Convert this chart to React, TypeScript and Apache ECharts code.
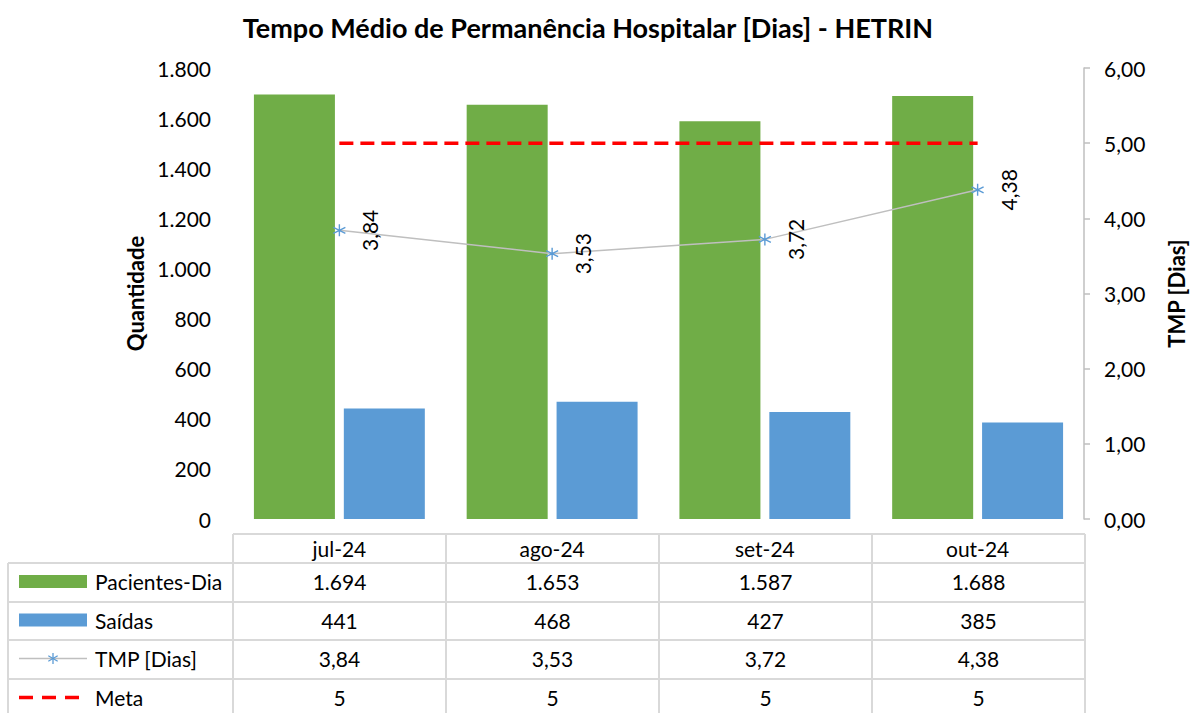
import React, { useEffect, useRef } from "react";
import * as echarts from "echarts";

const categories = ["jul-24", "ago-24", "set-24", "out-24"];
const pacientesDia = [1694, 1653, 1587, 1688];
const saidas = [441, 468, 427, 385];
const tmpDias = [3.84, 3.53, 3.72, 4.38];
const meta = [5, 5, 5, 5];
const seriesNames = ["Pacientes-Dia", "Saídas", "TMP [Dias]", "Meta"];

const FONT = "Lato, 'Open Sans', sans-serif";
const FS = 21;
const GREEN = "#70ad47";
const BLUE = "#5b9bd5";
const GRAY = "#bfbfbf";
const RED = "#ff0000";
const GRID_COLOR = "#d9d9d9";

const fmtInt = (v: number) => {
  const s = Math.round(v).toString();
  return s.replace(/\B(?=(\d{3})+(?!\d))/g, ".");
};
const fmtDec = (v: number, d = 2) => v.toFixed(d).replace(".", ",");

const STAR = "path://M5,0L5,10M0.7,2.5L9.3,7.5M0.7,7.5L9.3,2.5";

export default function App() {
  const ref = useRef<HTMLDivElement>(null);
  useEffect(() => {
    if (!ref.current) return;
    const chart = echarts.init(ref.current, undefined, { renderer: "svg" });
    const W = 1195;
    const H = 713;
    const gl = 233;
    const gr = 1085;
    const gt = 68;
    const gb = 519;
    const colW = (gr - gl) / categories.length;
    const rowsY = [534, 563, 602, 640, 679, 718];
    const lineStyle = { stroke: GRID_COLOR, lineWidth: 2 };
    const graphics: any[] = [];
    // title
    graphics.push({
      type: "text",
      x: 588,
      y: 27,
      style: {
        text: "Tempo Médio de Permanência Hospitalar [Dias] - HETRIN",
        font: `bold 27px ${FONT}`,
        fill: "#000",
        align: "center",
        verticalAlign: "middle",
      },
    });
    // table horizontal lines
    graphics.push({ type: "line", shape: { x1: gl, y1: rowsY[0], x2: gr, y2: rowsY[0] }, style: lineStyle });
    for (let i = 1; i < rowsY.length; i++) {
      graphics.push({ type: "line", shape: { x1: 8, y1: rowsY[i], x2: gr, y2: rowsY[i] }, style: lineStyle });
    }
    for (let i = 0; i <= categories.length; i++) {
      const x = gl + i * colW;
      graphics.push({ type: "line", shape: { x1: x, y1: rowsY[0], x2: x, y2: H }, style: lineStyle });
    }
    graphics.push({ type: "line", shape: { x1: 8, y1: rowsY[1], x2: 8, y2: H }, style: lineStyle });

    const rowsData = [
      pacientesDia.map(fmtInt),
      saidas.map(fmtInt),
      tmpDias.map((v) => fmtDec(v)),
      meta.map((v) => String(v)),
    ];
    rowsData.forEach((row, r) => {
      const cy = (rowsY[r + 1] + rowsY[r + 2]) / 2 - 1;
      row.forEach((t, c) => {
        graphics.push({
          type: "text",
          x: gl + (c + 0.5) * colW,
          y: cy,
          style: { text: t, font: `${FS}px ${FONT}`, fill: "#000", align: "center", verticalAlign: "middle" },
        });
      });
      graphics.push({
        type: "text",
        x: 95,
        y: cy,
        style: { text: seriesNames[r], font: `${FS}px ${FONT}`, fill: "#000", align: "left", verticalAlign: "middle" },
      });
    });
    // legend keys
    const ky = (r: number) => (rowsY[r + 1] + rowsY[r + 2]) / 2 - 1;
    graphics.push({ type: "rect", shape: { x: 19, y: ky(0) - 6.5, width: 68, height: 13 }, style: { fill: GREEN } });
    graphics.push({ type: "rect", shape: { x: 19, y: ky(1) - 6.5, width: 68, height: 13 }, style: { fill: BLUE } });
    graphics.push({ type: "line", shape: { x1: 19, y1: ky(2), x2: 87, y2: ky(2) }, style: { stroke: GRAY, lineWidth: 1.5 } });
    const sx = 53;
    const sy = ky(2);
    graphics.push({ type: "line", shape: { x1: sx, y1: sy - 5.5, x2: sx, y2: sy + 5.5 }, style: { stroke: BLUE, lineWidth: 1.3 } });
    graphics.push({ type: "line", shape: { x1: sx - 4.7, y1: sy - 2.7, x2: sx + 4.7, y2: sy + 2.7 }, style: { stroke: BLUE, lineWidth: 1.3 } });
    graphics.push({ type: "line", shape: { x1: sx - 4.7, y1: sy + 2.7, x2: sx + 4.7, y2: sy - 2.7 }, style: { stroke: BLUE, lineWidth: 1.3 } });
    graphics.push({
      type: "line",
      shape: { x1: 19, y1: ky(3), x2: 88, y2: ky(3) },
      style: { stroke: RED, lineWidth: 3.5, lineDash: [14, 9] },
    });

    chart.setOption({
      animation: false,
      textStyle: { fontFamily: FONT },
      grid: { left: gl, right: W - gr, top: gt, bottom: H - gb, containLabel: false },
      xAxis: {
        type: "category",
        data: categories,
        axisLine: { show: false },
        axisTick: { show: false },
        axisLabel: { fontSize: FS, color: "#000", margin: 19, fontFamily: FONT },
      },
      yAxis: [
        {
          type: "value",
          min: 0,
          max: 1800,
          interval: 200,
          name: "Quantidade",
          nameLocation: "middle",
          nameGap: 82,
          nameTextStyle: { fontSize: 22, fontWeight: "bold", color: "#000", fontFamily: FONT },
          axisLine: { show: false },
          axisTick: { show: false },
          splitLine: { show: false },
          axisLabel: { fontSize: FS, color: "#000", margin: 22, formatter: (v: number) => fmtInt(v), fontFamily: FONT },
        },
        {
          type: "value",
          min: 0,
          max: 6,
          interval: 1,
          position: "right",
          name: "TMP [Dias]",
          nameLocation: "middle",
          nameGap: 81,
          nameRotate: 90,
          nameTextStyle: { fontSize: 22, fontWeight: "bold", color: "#000", fontFamily: FONT },
          axisLine: { show: true, lineStyle: { color: GRAY, width: 1.5 } },
          axisTick: { show: true, length: 6, lineStyle: { color: GRAY, width: 1.5 } },
          splitLine: { show: false },
          axisLabel: { fontSize: FS, color: "#000", margin: 20, formatter: (v: number) => fmtDec(v), fontFamily: FONT },
        },
      ],
      series: [
        {
          name: seriesNames[0],
          type: "bar",
          data: pacientesDia,
          barWidth: 81,
          barGap: "11%",
          itemStyle: { color: GREEN },
        },
        {
          name: seriesNames[1],
          type: "bar",
          data: saidas,
          barWidth: 81,
          barGap: "11%",
          itemStyle: { color: BLUE },
        },
        {
          name: seriesNames[2],
          type: "line",
          yAxisIndex: 1,
          data: tmpDias,
          symbol: STAR,
          symbolSize: 12,
          lineStyle: { color: GRAY, width: 1.5 },
          itemStyle: { color: "none", borderColor: BLUE, borderWidth: 1.4 },
          label: {
            show: true,
            position: "right",
            distance: 22,
            rotate: 90,
            align: "center",
            verticalAlign: "middle",
            fontSize: FS,
            color: "#000",
            fontFamily: FONT,
            formatter: (p: any) => fmtDec(p.value),
          },
          z: 5,
        },
        {
          name: seriesNames[3],
          type: "line",
          yAxisIndex: 1,
          data: meta,
          symbol: "none",
          lineStyle: { color: RED, width: 3.5, type: [14, 7] },
          z: 4,
        },
      ],
      graphic: graphics,
    });
    return () => chart.dispose();
  }, []);
  return (
    <div
      ref={ref}
      style={{ position: "fixed", left: 0, top: 0, width: 1195, height: 713, background: "#fff" }}
    />
  );
}
